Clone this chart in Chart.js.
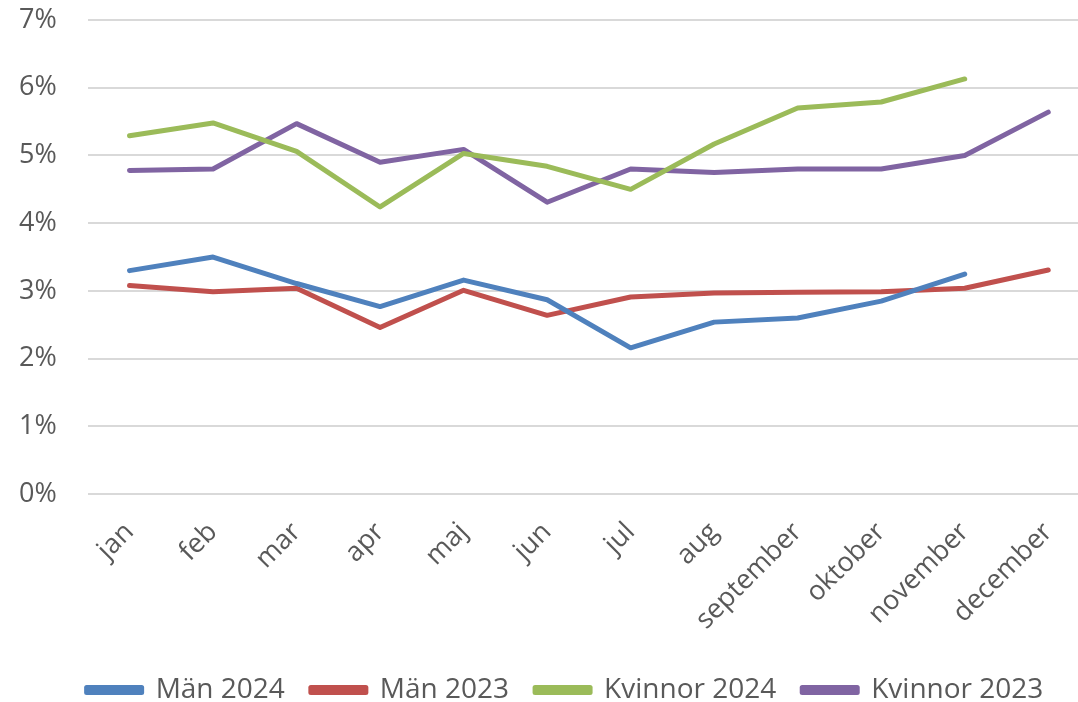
<!DOCTYPE html>
<html>
<head>
<meta charset="utf-8">
<script src="https://cdn.jsdelivr.net/npm/chart.js@4/dist/chart.umd.min.js"></script>
<style>
  html, body { margin: 0; padding: 0; background: #fff; overflow: hidden; }
  #wrap { width: 1090px; height: 702px; }
</style>
</head>
<body>
<div id="wrap"><canvas id="chart"></canvas></div>
<script>
const months = ["jan", "feb", "mar", "apr", "maj", "jun", "jul", "aug", "september", "oktober", "november", "december"];
const man2024 = [3.30, 3.50, 3.11, 2.77, 3.16, 2.87, 2.16, 2.54, 2.60, 2.85, 3.25, null];
const man2023 = [3.08, 2.99, 3.04, 2.46, 3.01, 2.64, 2.91, 2.97, 2.98, 2.99, 3.04, 3.31];
const kvinnor2024 = [5.29, 5.48, 5.06, 4.24, 5.03, 4.84, 4.50, 5.17, 5.70, 5.79, 6.13, null];
const kvinnor2023 = [4.78, 4.80, 5.47, 4.90, 5.09, 4.31, 4.80, 4.75, 4.80, 4.80, 5.00, 5.64];

const font = "'Open Sans', sans-serif";
const textColor = "#595959";

function line(label, data, color) {
    return {
        label: label,
        data: data,
        borderColor: color,
        backgroundColor: color,
        borderWidth: 5,
        borderCapStyle: "round",
        borderJoinStyle: "round",
        pointRadius: 0,
        tension: 0,
    };
}

// nudge the legend a bit to the right, like the original
const legendShift = {
    id: "legendShift",
    afterLayout(chart) {
        chart.legend.left += 26;
        chart.legend.right += 26;
    },
};

new Chart(document.getElementById("chart"), {
    type: "line",
    data: {
        labels: months,
        datasets: [
            line("Män 2024", man2024, "#4f81bd"),
            line("Män 2023", man2023, "#c0504d"),
            line("Kvinnor 2024", kvinnor2024, "#9bbb59"),
            line("Kvinnor 2023", kvinnor2023, "#8064a2"),
        ],
    },
    options: {
        responsive: true,
        maintainAspectRatio: false,
        animation: false,
        layout: {
            padding: { top: 20, left: -12, right: 0, bottom: -12 },
        },
        plugins: {
            tooltip: { enabled: false },
            legend: {
                position: "bottom",
                labels: {
                    color: textColor,
                    font: { family: font, size: 28 },
                    boxWidth: 55,
                    boxHeight: 5,
                    padding: 26,
                },
            },
        },
        scales: {
            x: {
                offset: true,
                grid: { display: false },
                border: { display: false },
                ticks: {
                    color: textColor,
                    font: { family: font, size: 27 },
                    maxRotation: 45,
                    minRotation: 45,
                    padding: 14,
                },
                afterFit: (scale) => { scale.paddingLeft = 0; scale.paddingRight = 0; },
            },
            y: {
                min: 0,
                max: 7,
                border: { display: false },
                grid: { color: "#d9d9d9", lineWidth: 2, drawTicks: false },
                ticks: {
                    stepSize: 1,
                    color: textColor,
                    font: { family: font, size: 27 },
                    padding: 31,
                    callback: (v) => v + "%",
                },
                afterFit: (scale) => { scale.paddingTop = 0; scale.paddingBottom = 0; },
            },
        },
    },
    plugins: [legendShift],
});
</script>
</body>
</html>
